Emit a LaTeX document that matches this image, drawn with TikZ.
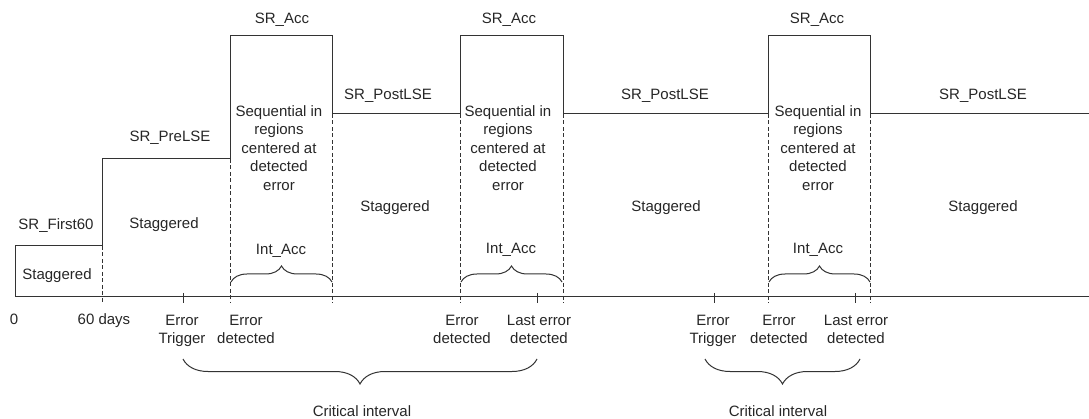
\documentclass[tikz,border=0pt]{standalone}
\usepackage{fontspec}
\setmainfont{Liberation Sans}
\usetikzlibrary{decorations.pathreplacing}
\begin{document}
\begin{tikzpicture}[x=1pt,y=-1pt,
  lab/.style={font=\fontsize{15}{18.5}\selectfont, inner sep=0pt, align=center, text=black!85, anchor=base},
  ln/.style={line width=1pt, draw=black!80},
  dsh/.style={ln, dash pattern=on 4pt off 2.5pt},
  brdown/.style={ln, decorate, decoration={brace, amplitude=25pt}},
  brup/.style={ln, decorate, decoration={brace, amplitude=16pt}}]
\useasboundingbox (0,0) rectangle (1089,419);
% profile
\draw[ln] (15,297) -- (15,246) -- (102,246) -- (102,159) -- (230,159) -- (230,36) -- (332,36) -- (332,114)
  -- (460,114) -- (460,36) -- (563,36) -- (563,114) -- (768,114) -- (768,36) -- (870,36) -- (870,114) -- (1089,114);
% axis
\coordinate (a0) at (15,297);
\coordinate (aend) at (1089,297);
\draw[ln] (a0) -- (aend);
% dashed separators
\foreach \x/\t in {102/246,230/159,332/114,460/114,563/114,768/114,870/114}{
  \draw[dsh] (\x,\t) -- (\x,303);
}
% ticks
\coordinate (et1) at (183,293);
\coordinate (le1) at (537,293);
\coordinate (et2) at (714,293);
\coordinate (le2) at (855,293);
\foreach \c in {et1,le1,et2,le2}{ \draw[ln] (\c) -- ++(0,10); }
% Int_Acc braces
\draw[brup] (231,282) -- (332,282);
\draw[brup] (461,282) -- (562,282);
\draw[brup] (769,282) -- (870,282);
% critical interval braces
\draw[brdown] (537,359) -- (183,359);
\draw[brdown] (860,359) -- (705,359);
% labels top
\node[lab] (acc1) at (282,24) {SR\_Acc};
\node[lab] (acc2) at (509,24) {SR\_Acc};
\node[lab] (acc3) at (817,24) {SR\_Acc};
\node[lab] (pre) at (170,142) {SR\_PreLSE};
\node[lab] (f60) at (56,230) {SR\_First60};
\node[lab] (post1) at (388,100) {SR\_PostLSE};
\node[lab] (post2) at (665,100) {SR\_PostLSE};
\node[lab] (post3) at (983,100) {SR\_PostLSE};
\node[lab] (st0) at (57,280) {Staggered};
\node[lab] (st1) at (164,228.5) {Staggered};
\node[lab] (st2) at (395,212) {Staggered};
\node[lab] (st3) at (666,212) {Staggered};
\node[lab] (st4) at (983,212) {Staggered};
\node[lab] (seq1) at (279,190.5) {Sequential in\\regions\\centered at\\detected\\error};
\node[lab] (seq2) at (508,190.5) {Sequential in\\regions\\centered at\\detected\\error};
\node[lab] (seq3) at (818,190.5) {Sequential in\\regions\\centered at\\detected\\error};
\node[lab] (ia1) at (281,255) {Int\_Acc};
\node[lab] (ia2) at (511,254) {Int\_Acc};
\node[lab] (ia3) at (818,254) {Int\_Acc};
% axis labels
\node[lab] (l0) at (14,325) {0};
\node[lab] (l60) at (104,325) {60 days};
\node[lab] (trg1) at (182,344) {Error\\Trigger};
\node[lab] (det1) at (246,344) {Error\\detected};
\node[lab] (det2) at (462,344) {Error\\detected};
\node[lab] (last1) at (539,344) {Last error\\detected};
\node[lab] (trg2) at (713,344) {Error\\Trigger};
\node[lab] (det3) at (779,344) {Error\\detected};
\node[lab] (last2) at (856,344) {Last error\\detected};
\node[lab, text depth=0pt] (ci1) at (362,416.5) {Critical interval};
\node[lab, text depth=0pt] (ci2) at (778,416.5) {Critical interval};
\end{tikzpicture}
\end{document}
